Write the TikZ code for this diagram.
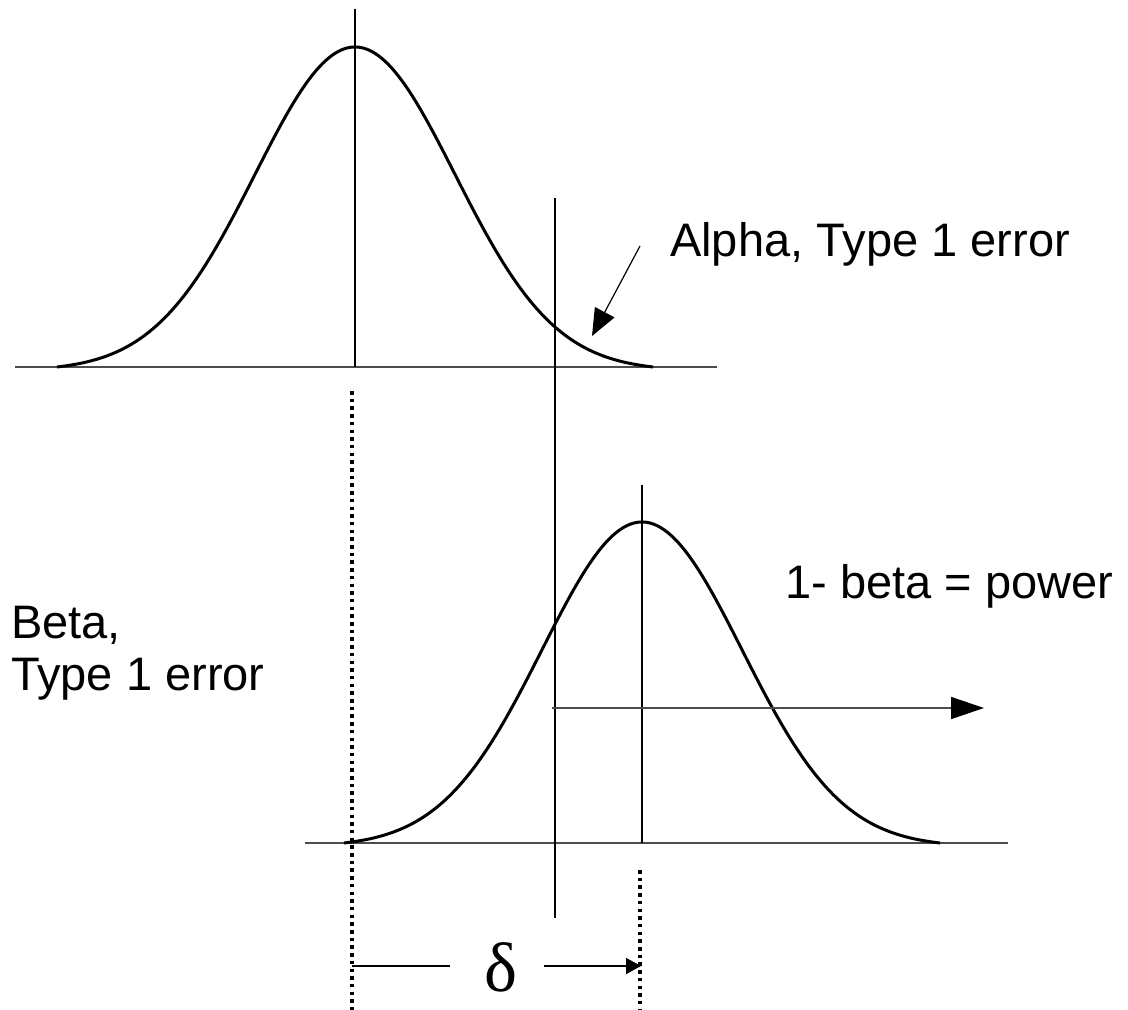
\documentclass[tikz,border=0pt]{standalone}
\usepackage{fontspec}
\setmainfont{Liberation Sans}
\newfontfamily\greekfont{Liberation Serif}
\usetikzlibrary{arrows.meta}

\begin{document}
\begin{tikzpicture}[x=1pt,y=-1pt,
  every node/.style={inner sep=0pt,font=\fontsize{47}{54}\selectfont},
  curve/.style={line width=3pt,line join=round},
  axis/.style={black!70,line width=2pt},
  stem/.style={line width=2pt},
  dots/.style={line width=3.5pt,dash pattern=on 3.5pt off 4.2pt},
  declare function={
    bell(\t)=(exp(-0.5*(\t/100)*(\t/100))-exp(-0.5*(298/100)*(298/100)))/(1-exp(-0.5*(298/100)*(298/100)));}]
\useasboundingbox (0,0) rectangle (1128,1010);

% null distribution
\draw[axis] (15,367) -- (717,367);
\draw[curve] plot[domain=-298:298,samples=151,smooth] ({355+\x},{367-320*bell(\x)});
\draw[stem] (355,9) -- (355,367);

% alternative distribution
\draw[axis] (305,843) -- (1008,843);
\draw[curve] plot[domain=-298:298,samples=151,smooth] ({642+\x},{843-321*bell(\x)});
\draw[stem] (642,485) -- (642,843);

% critical value
\draw[stem] (555,198) -- (555,918);

% labels
\node[anchor=base west] (alpha) at (670,256) {Alpha, Type 1 error};
\node[anchor=base west] (power) at (785,598) {1- beta = power};
\node[anchor=base west] (beta) at (11,638) {Beta,};
\node[anchor=base west] (type) at (11,690) {Type 1 error};
\node[font=\greekfont\fontsize{70}{72}\selectfont] (delta) at (501,967) {δ};

\coordinate (alphaTail) at (640,246);
\coordinate (alphaTip) at (592,336);
\draw[line width=1.2pt,-{Triangle[length=27pt,width=22pt]}] (alphaTail) -- (alphaTip);

\coordinate (powerStart) at (552,708);
\coordinate (powerEnd) at (984,708);
\draw[black!70,line width=1.5pt,-{Triangle[length=33pt,width=22pt,color=black]}] (powerStart) -- (powerEnd);

% mean shift
\draw[dots] (352,391) -- (352,1010);
\draw[dots] (640,870) -- (640,1010);
\coordinate (shiftL) at (352,966);
\coordinate (shiftR) at (641,966);
\draw[line width=1.5pt] (shiftL) -- ++(98,0);
\draw[line width=1.5pt,-{Triangle[length=15pt,width=16pt]}] (544,966) -- (shiftR);
\end{tikzpicture}
\end{document}
